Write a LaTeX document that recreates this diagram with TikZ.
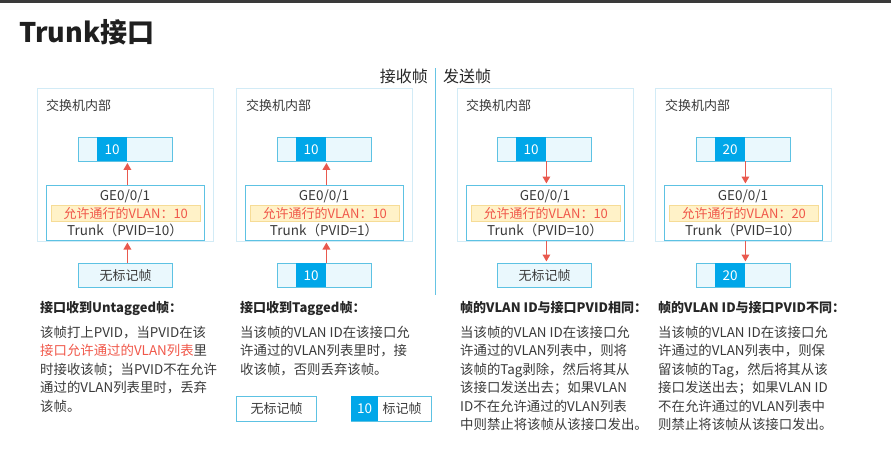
\documentclass[tikz,border=0pt]{standalone}
\usepackage{fontspec}
\setmainfont{Noto Sans CJK SC}
\usetikzlibrary{arrows.meta, positioning}

\definecolor{topbar}{HTML}{3A3A3A}
\definecolor{panelline}{HTML}{D2EBF6}
\definecolor{boxline}{HTML}{5DC2E3}
\definecolor{framefill}{HTML}{EAF8FD}
\definecolor{cellblue}{HTML}{00A7E9}
\definecolor{arrowred}{HTML}{E9594E}
\definecolor{hlfill}{HTML}{FFF2C8}
\definecolor{hlline}{HTML}{F6DC96}
\definecolor{redtext}{HTML}{F0584A}
\definecolor{bodytext}{HTML}{3A3A3A}
\definecolor{divider}{HTML}{66C4E4}

\newcommand{\fsz}[2]{\fontsize{#1}{#2}\selectfont}

\begin{document}
\begin{tikzpicture}[x=1pt,y=-1pt,
  panel/.style={draw=panelline, line width=0.8pt, anchor=north west, minimum width=176pt, minimum height=153pt, inner sep=0pt},
  framebox/.style={draw=boxline, fill=framefill, line width=1pt, anchor=north west, minimum width=94pt, minimum height=24pt, inner sep=0pt, text=bodytext, font=\fsz{13}{13}},
  cell/.style={fill=cellblue, anchor=north west, minimum width=30pt, minimum height=24pt, inner sep=0pt, text=white, font=\fsz{13.5}{13.5}},
  port/.style={draw=boxline, fill=white, line width=1pt, anchor=north west, minimum width=158pt, minimum height=55pt, inner sep=0pt},
  allow/.style={fill=hlfill, draw=hlline, line width=0.6pt, anchor=north west, minimum width=149pt, minimum height=16pt, inner sep=0pt, text=redtext, font=\fsz{13}{13}},
  porttext/.style={text=bodytext, font=\fsz{13.5}{13.5}, inner sep=0pt},
  inside/.style={anchor=west, text=bodytext, font=\fsz{13}{13}, inner sep=0pt},
  heading/.style={anchor=west, text=black!85, font=\bfseries\fsz{13}{13}, inner sep=0pt},
  body/.style={anchor=north west, align=left, text=bodytext, font=\fsz{13.4}{18.4}, inner sep=0pt},
  arr/.style={draw=arrowred, line width=1.8pt, -{Triangle[width=7.5pt,length=7pt]}}
]
\useasboundingbox (0,0) rectangle (891,451);
\fill[topbar] (0,0) rectangle (891,3);

% title and direction labels
\node[anchor=west, inner sep=0pt, text=black!88, font=\bfseries\fsz{27}{27}] (title) at (19,32) {Trunk接口};
\node[anchor=east, inner sep=0pt, text=black!85, font=\fsz{16}{16}] (rx) at (428,76) {接收帧};
\node[anchor=west, inner sep=0pt, text=black!85, font=\fsz{16}{16}] (tx) at (443,76) {发送帧};
\coordinate (divtop) at (435,68);
\coordinate (divbot) at (435,295);
\draw[divider, line width=1pt] (divtop) -- (divbot);

% panel 1: receive untagged
\node[panel] (sw1) at (37,88) {};
\node[inside] (in1) at (46,106) {交换机内部};
\node[framebox] (frame1) at (78,137) {};
\node[cell] (cell1) at (97,137) {10};
\node[port] (port1) at (46,185) {};
\node[porttext] (ge1) at (125,196) {GE0/0/1};
\node[allow] (vl1) at (51,205) {允许通行的VLAN：10};
\node[porttext] (pv1) at (125,230) {Trunk（PVID=10）};
\node[framebox] (bot1) at (78,263) {无标记帧};
\draw[arr] (port1.north -| cell1.east) -- ([yshift=-1.5pt]cell1.south east);
\draw[arr] (bot1.north -| cell1.east) -- ([yshift=-1.5pt]port1.south -| cell1.east);

% panel 2: receive tagged
\node[panel] (sw2) at (236,88) {};
\node[inside] (in2) at (246,106) {交换机内部};
\node[framebox] (frame2) at (277,137) {};
\node[cell] (cell2) at (296,137) {10};
\node[port] (port2) at (245,185) {};
\node[porttext] (ge2) at (324,196) {GE0/0/1};
\node[allow] (vl2) at (250,205) {允许通行的VLAN：10};
\node[porttext] (pv2) at (324,230) {Trunk（PVID=1）};
\node[framebox] (bot2) at (277,263) {};
\node[cell] (botcell2) at (296,263) {10};
\draw[arr] (port2.north -| cell2.east) -- ([yshift=-1.5pt]cell2.south east);
\draw[arr] (bot2.north -| cell2.east) -- ([yshift=-1.5pt]port2.south -| cell2.east);

% panel 3: send, same PVID
\node[panel] (sw3) at (457,88) {};
\node[inside] (in3) at (466,106) {交换机内部};
\node[framebox] (frame3) at (497,137) {};
\node[cell] (cell3) at (516,137) {10};
\node[port] (port3) at (466,185) {};
\node[porttext] (ge3) at (545,196) {GE0/0/1};
\node[allow] (vl3) at (471,205) {允许通行的VLAN：10};
\node[porttext] (pv3) at (545,230) {Trunk（PVID=10）};
\node[framebox] (bot3) at (497,263) {无标记帧};
\draw[arr] (cell3.south east) -- ([yshift=1.5pt]port3.north -| cell3.east);
\draw[arr] (port3.south -| cell3.east) -- ([yshift=1.5pt]bot3.north -| cell3.east);

% panel 4: send, other PVID
\node[panel] (sw4) at (655,88) {};
\node[inside] (in4) at (665,106) {交换机内部};
\node[framebox] (frame4) at (696,137) {};
\node[cell] (cell4) at (715,137) {20};
\node[port] (port4) at (664,185) {};
\node[porttext] (ge4) at (743,196) {GE0/0/1};
\node[allow] (vl4) at (669,205) {允许通行的VLAN：20};
\node[porttext] (pv4) at (743,230) {Trunk（PVID=10）};
\node[framebox] (bot4) at (696,263) {};
\node[cell] (botcell4) at (715,263) {20};
\draw[arr] (cell4.south east) -- ([yshift=1.5pt]port4.north -| cell4.east);
\draw[arr] (port4.south -| cell4.east) -- ([yshift=1.5pt]bot4.north -| cell4.east);

% explanations
\node[heading] (h1) at (40,308) {接口收到Untagged帧：};
\node[body] (t1) at (40,326) {该帧打上PVID，当PVID在该\\{\color{redtext}接口允许通过的VLAN列表}里\\时接收该帧；当PVID不在允许\\通过的VLAN列表里时，丢弃\\该帧。};
\node[heading] (h2) at (240,308) {接口收到Tagged帧：};
\node[body] (t2) at (240,326) {当该帧的VLAN ID在该接口允\\许通过的VLAN列表里时，接\\收该帧，否则丢弃该帧。};
\node[heading] (h3) at (460,308) {帧的VLAN ID与接口PVID相同：};
\node[body] (t3) at (460,326) {当该帧的VLAN ID在该接口允\\许通过的VLAN列表中，则将\\该帧的Tag剥除，然后将其从\\该接口发送出去；如果VLAN\\ID不在允许通过的VLAN列表\\中则禁止将该帧从该接口发出。};
\node[heading] (h4) at (658,308) {帧的VLAN ID与接口PVID不同：};
\node[body] (t4) at (658,326) {当该帧的VLAN ID在该接口允\\许通过的VLAN列表中，则保\\留该帧的Tag，然后将其从该\\接口发送出去；如果VLAN ID\\不在允许通过的VLAN列表中\\则禁止将该帧从该接口发出。};

% legend
\node[framebox, minimum width=80pt, minimum height=25pt, fill=white] (legu) at (236,396) {无标记帧};
\node[framebox, minimum width=80pt, minimum height=25pt, fill=white] (legt) at (351,396) {};
\node[cell, minimum width=27pt, minimum height=25pt] (legcell) at (351,396) {10};
\node[right=4pt of legcell, inner sep=0pt, text=bodytext, font=\fsz{13}{13}] (legtxt) {标记帧};
\end{tikzpicture}
\end{document}
